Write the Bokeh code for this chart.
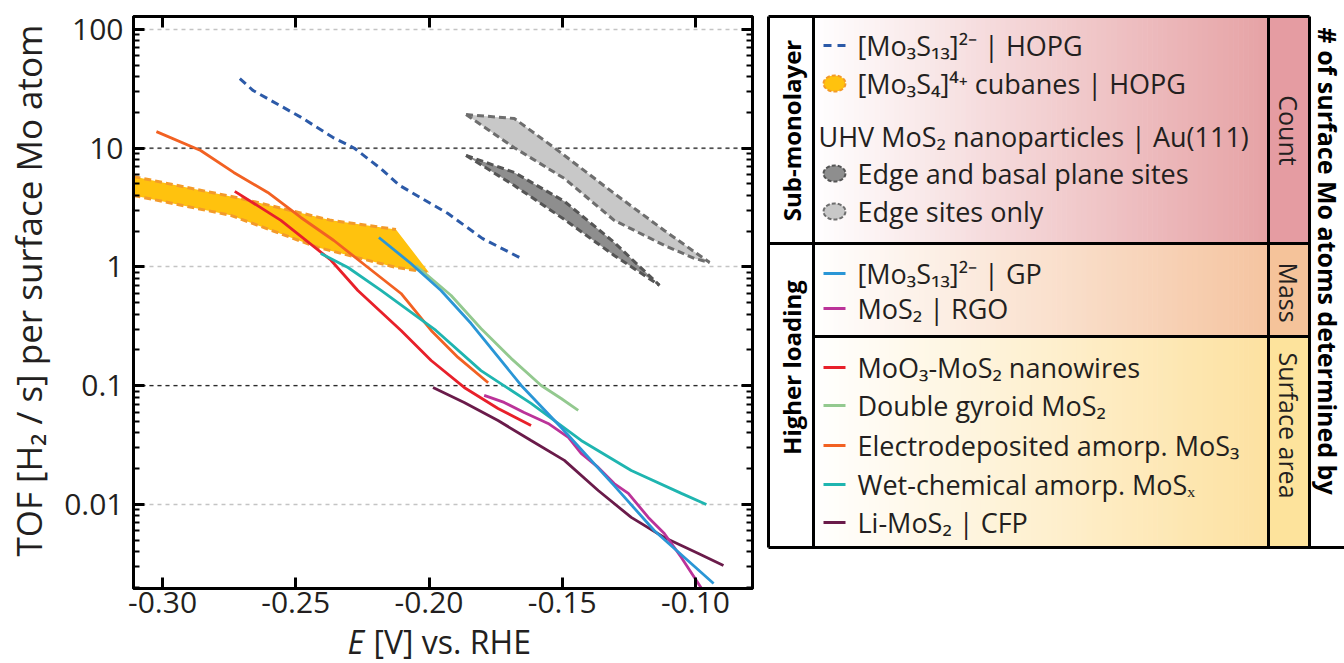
import math
from bokeh.plotting import figure
from bokeh.models import (Range1d, LinearAxis, LogAxis, FixedTicker,
                          CustomJSTickFormatter, Span)
from bokeh.layouts import row, column
from bokeh.embed import file_html
from bokeh.resources import INLINE
from bokeh.core.properties import value

# ---------------- data ----------------
x_ticks = [-0.30, -0.25, -0.20, -0.15, -0.10]
x_tick_labels = ["-0.30", "-0.25", "-0.20", "-0.15", "-0.10"]
y_ticks = [0.01, 0.1, 1, 10, 100]
y_tick_labels = ["0.01", "0.1", "1", "10", "100"]

# [Mo3S13]2- | HOPG (dashed)
hopg_E = [-0.271, -0.266, -0.248, -0.236, -0.228, -0.218, -0.211, -0.193, -0.180, -0.166]
hopg_tof = [38.6, 30.6, 18.2, 12.3, 10.0, 6.7, 4.85, 2.83, 1.74, 1.20]

# [Mo3S4]4+ cubanes | HOPG (band)
cubane_upper_E = [-0.3109, -0.2707, -0.2519, -0.2368, -0.2124]
cubane_upper_tof = [5.78, 3.78, 2.99, 2.47, 2.07]
cubane_lower_E = [-0.3109, -0.2744, -0.2417, -0.2124, -0.2000]
cubane_lower_tof = [4.00, 2.72, 1.46, 0.99, 0.90]

# UHV MoS2 nanoparticles: edge and basal plane sites (dark band)
basal_upper_E = [-0.1861, -0.1680, -0.1492, -0.1305, -0.1135]
basal_upper_tof = [8.69, 6.25, 3.57, 1.61, 0.70]
basal_lower_E = [-0.1861, -0.1680, -0.1492, -0.1305, -0.1135]
basal_lower_tof = [8.69, 4.85, 2.51, 1.25, 0.70]

# UHV MoS2 nanoparticles: edge sites only (light band)
edge_upper_E = [-0.1861, -0.1680, -0.1530, -0.1305, -0.1117, -0.0947]
edge_upper_tof = [19.2, 17.8, 10.1, 4.16, 2.03, 1.09]
edge_lower_E = [-0.1861, -0.1680, -0.1492, -0.1305, -0.1117, -0.1004, -0.0947]
edge_lower_tof = [19.2, 10.1, 5.56, 2.47, 1.52, 1.18, 1.09]

# [Mo3S13]2- | GP
gp_E = [-0.2188, -0.2068, -0.1955, -0.1842, -0.1654, -0.1504, -0.1305, -0.1154, -0.0932]
gp_tof = [1.77, 1.07, 0.634, 0.334, 0.1005, 0.0445, 0.0144, 0.0060, 0.00216]

# MoS2 | RGO
rgo_E = [-0.1793, -0.1718, -0.1643, -0.1553, -0.1477, -0.1429, -0.1365, -0.1305,
         -0.1252, -0.1177, -0.1117, -0.1053, -0.0977, -0.0960]
rgo_tof = [0.0828, 0.0723, 0.0595, 0.0481, 0.0367, 0.0269, 0.0205, 0.0150,
           0.0124, 0.00778, 0.00570, 0.00358, 0.00196, 0.0017]

# MoO3-MoS2 nanowires
nw_E = [-0.2729, -0.2556, -0.2368, -0.2267, -0.2105, -0.1992, -0.1868, -0.1741, -0.1617]
nw_tof = [4.33, 2.47, 1.14, 0.634, 0.292, 0.163, 0.0967, 0.0643, 0.0462]

# Double gyroid MoS2
gyroid_E = [-0.2049, -0.1917, -0.1805, -0.1692, -0.1579, -0.1504, -0.1440]
gyroid_tof = [1.03, 0.575, 0.303, 0.170, 0.1005, 0.078, 0.062]

# Electrodeposited amorp. MoS3
electro_E = [-0.3023, -0.2857, -0.2733, -0.2605, -0.2481, -0.2357, -0.2229,
             -0.2105, -0.1992, -0.1891, -0.1778]
electro_tof = [13.8, 9.57, 6.25, 4.24, 2.61, 1.67, 0.99, 0.598, 0.292, 0.173, 0.106]

# Wet-chemical amorp. MoSx
wet_E = [-0.2406, -0.2304, -0.2180, -0.1974, -0.1805, -0.1617, -0.1429, -0.1241, -0.1053, -0.0959]
wet_tof = [1.30, 0.99, 0.634, 0.292, 0.134, 0.071, 0.0346, 0.0193, 0.0124, 0.0100]

# Li-MoS2 | CFP
li_E = [-0.1985, -0.1868, -0.1741, -0.1617, -0.1492, -0.1365, -0.1241, -0.1117, -0.0989, -0.0895]
li_tof = [0.0966, 0.0723, 0.0509, 0.0346, 0.0235, 0.0131, 0.00778, 0.00527, 0.00387, 0.00306]

legend_labels = ["[Mo\u2083S\u2081\u2083]\u00b2\u207b | HOPG",
                 "[Mo\u2083S\u2084]\u2074\u207a cubanes | HOPG",
                 "UHV MoS\u2082 nanoparticles | Au(111)",
                 "Edge and basal plane sites",
                 "Edge sites only",
                 "[Mo\u2083S\u2081\u2083]\u00b2\u207b | GP",
                 "MoS\u2082 | RGO",
                 "MoO\u2083-MoS\u2082 nanowires",
                 "Double gyroid MoS\u2082",
                 "Electrodeposited amorp. MoS\u2083",
                 "Wet-chemical amorp. MoS\u2093",
                 "Li-MoS\u2082 | CFP"]
group_labels = ["Sub-monolayer", "Higher loading"]
method_labels = ["Count", "Mass", "Surface area"]
side_title = "# of surface Mo atoms determined by"
x_label_italic = "E"
x_label_rest = "[V] vs. RHE"
y_label = "TOF [H\u2082 / s] per surface Mo atom"

# ---------------- styles ----------------
FONT = "Open Sans"
TXT = "#231f20"
C_HOPG = "#2c5aa8"
C_CUB_FILL, C_CUB_LINE = "#ffc20e", "#f39a2a"
C_BASAL_FILL, C_BASAL_LINE = "#8e8e8e", "#555555"
C_EDGE_FILL, C_EDGE_LINE = "#c8c8c8", "#6e6e6e"
C_GP = "#2a96d6"
C_RGO = "#bb3399"
C_NW = "#e8202a"
C_GYR = "#93c98f"
C_ELEC = "#f26122"
C_WET = "#1fb5b0"
C_LI = "#6a1b4a"
LW = 2.8

W_YL, W1, W2, H = 56, 766, 578, 663
H_CH = 627            # chart height
H_XL = 50             # x-title strip height (overlaps chart bottom, transparent)
XL_OVERLAP = H_CH + H_XL - H


def base_fig(w, h, xr, yr):
    f = figure(width=w, height=h, x_range=xr, y_range=yr, output_backend="svg",
               toolbar_location=None, min_border=0, x_axis_location=None,
               y_axis_location=None)
    f.outline_line_color = None
    f.grid.visible = False
    return f


# ---------------- chart ----------------
p = figure(width=W1 - W_YL, height=H_CH, x_range=Range1d(-0.3109, -0.0786),
           y_range=Range1d(0.00196, 128.6), y_axis_type="log",
           output_backend="svg", toolbar_location=None,
           min_border_left=133 - W_YL, min_border_right=14, min_border_top=16,
           min_border_bottom=H_CH - 588)
p.outline_line_color = "black"
p.outline_line_width = 3

y_minor = [m * 10.0 ** e for e in range(-3, 3) for m in range(2, 10)]
yt = FixedTicker(ticks=y_ticks, minor_ticks=y_minor)
xt = FixedTicker(ticks=x_ticks, minor_ticks=[])

p.xgrid.grid_line_color = None
p.ygrid.ticker = yt
p.ygrid.grid_line_color = "#c4c4c4"
p.ygrid.grid_line_dash = "4 4"
p.ygrid.grid_line_width = 1.3
for v in (10, 0.1):
    p.add_layout(Span(location=v, dimension="width", line_color="#2a2a2a",
                      line_dash="4 4", line_width=1.3, level="underlay"))

xfmt = CustomJSTickFormatter(code="return tick.toFixed(2);")
yfmt = CustomJSTickFormatter(code="return Number(tick.toPrecision(6)).toString();")


def style_axis(ax, show):
    ax.axis_line_width = 3
    ax.axis_line_color = "black"
    ax.major_tick_in = 11
    ax.major_tick_out = 0
    ax.major_tick_line_width = 3
    ax.minor_tick_in = 6
    ax.minor_tick_out = 0
    ax.minor_tick_line_width = 2
    ax.major_label_text_font = FONT
    ax.major_label_text_color = TXT
    if show:
        ax.major_label_text_font_size = "30px"
    else:
        ax.major_label_text_font_size = "0px"
        ax.major_label_text_color = None
        ax.major_label_standoff = 0


xa = p.xaxis[0]
xa.ticker = xt
xa.formatter = xfmt
xa.major_label_overrides = dict(zip(x_ticks, x_tick_labels))
style_axis(xa, True)
xa.major_label_standoff = 3

ya = p.yaxis[0]
ya.ticker = yt
ya.formatter = yfmt
ya.major_label_overrides = dict(zip(y_ticks, y_tick_labels))
style_axis(ya, True)
ya.major_label_standoff = 10

top_ax = LinearAxis(ticker=xt, formatter=xfmt)
style_axis(top_ax, False)
p.add_layout(top_ax, "above")
right_ax = LogAxis(ticker=yt, formatter=yfmt)
style_axis(right_ax, False)
p.add_layout(right_ax, "right")


def band(up_x, up_y, lo_x, lo_y, fill, line):
    p.patch(list(up_x) + list(reversed(lo_x)), list(up_y) + list(reversed(lo_y)),
            fill_color=fill, line_color=None)
    p.line(up_x, up_y, line_color=line, line_width=3, line_dash="7 4")
    p.line(lo_x, lo_y, line_color=line, line_width=3, line_dash="7 4")


band(cubane_upper_E, cubane_upper_tof, cubane_lower_E, cubane_lower_tof, C_CUB_FILL, C_CUB_LINE)
band(edge_upper_E, edge_upper_tof, edge_lower_E, edge_lower_tof, C_EDGE_FILL, C_EDGE_LINE)
band(basal_upper_E, basal_upper_tof, basal_lower_E, basal_lower_tof, C_BASAL_FILL, C_BASAL_LINE)

p.line(hopg_E, hopg_tof, line_color=C_HOPG, line_width=3, line_dash="8 5")
p.line(gyroid_E, gyroid_tof, line_color=C_GYR, line_width=LW)
p.line(electro_E, electro_tof, line_color=C_ELEC, line_width=LW)
p.line(nw_E, nw_tof, line_color=C_NW, line_width=LW)
p.line(wet_E, wet_tof, line_color=C_WET, line_width=LW)
p.line(li_E, li_tof, line_color=C_LI, line_width=LW)
p.line(rgo_E, rgo_tof, line_color=C_RGO, line_width=LW)
p.line(gp_E, gp_tof, line_color=C_GP, line_width=LW)

# ---------------- axis titles (strips) ----------------
yl = base_fig(W_YL, H_CH, Range1d(0, W_YL), Range1d(0, H_CH))
yl.text(x=[28], y=[H_CH - 592], text=[y_label], angle=math.pi / 2,
        text_font=value(FONT), text_font_size="35px", text_color=TXT,
        text_align="left", text_baseline="middle")

xl = base_fig(W1, H_XL, Range1d(0, W1), Range1d(H, H - H_XL))
xl.background_fill_color = None
xl.border_fill_color = None
xl.margin = (-XL_OVERLAP, 0, 0, 0)
xl.text(x=[347], y=[641], text=[x_label_italic], text_font=value(FONT),
        text_font_size="32px", text_font_style="italic", text_color=TXT,
        text_align="left", text_baseline="middle")
xl.text(x=[373], y=[641], text=[x_label_rest], text_font=value(FONT),
        text_font_size="32px", text_color=TXT, text_align="left",
        text_baseline="middle")

# ---------------- legend panel ----------------
q = base_fig(W2, H, Range1d(W1, W1 + W2), Range1d(0, H))


def Y(v):
    return H - v


LX0, LX1, LX2, LX3, LXR = 768, 813, 1268, 1309, 1344
LY0, LY1, LY2, LY3 = 16, 243, 336, 547


def hexrgb(h):
    return tuple(int(h[i:i + 2], 16) for i in (1, 3, 5))


def gradient(x0, x1, y0, y1, c_end, n=90):
    r1, g1, b1 = hexrgb(c_end)
    lefts, rights, cols = [], [], []
    dw = (x1 - x0) / n
    for i in range(n):
        t = (i + 0.5) / n
        r = round(255 + (r1 - 255) * t)
        g = round(255 + (g1 - 255) * t)
        b = round(255 + (b1 - 255) * t)
        lefts.append(x0 + i * dw)
        rights.append(x0 + (i + 1) * dw + 0.6)
        cols.append("#%02x%02x%02x" % (r, g, b))
    q.quad(left=lefts, right=rights, top=Y(y0), bottom=Y(y1), fill_color=cols, line_color=None)


gradient(LX1, LX2, LY0, LY1, "#e6a2a5")
gradient(LX1, LX2, LY1, LY2, "#f5c4a0")
gradient(LX1, LX2, LY2, LY3, "#fde1a0")
q.quad(left=[LX2, LX2, LX2], right=[LX3, LX3, LX3], top=[Y(LY0), Y(LY1), Y(LY2)],
       bottom=[Y(LY1), Y(LY2), Y(LY3)], fill_color=["#e59ca2", "#f5c39a", "#fde39c"],
       line_color=None)

border_x = [[LX0, LX3], [LX0, LXR], [LX0, LX0], [LX1, LX1], [LX2, LX2], [LX3, LX3],
            [LX0, LX3], [LX1, LX3]]
border_y = [[LY0, LY0], [LY3, LY3], [LY0, LY3], [LY0, LY3], [LY0, LY3], [LY0, LY3],
            [LY1, LY1], [LY2, LY2]]
q.multi_line(border_x, [[Y(a), Y(b)] for a, b in border_y], line_color="black",
             line_width=3)

row_y = [45, 83, 136, 173, 211, 273, 308, 367, 405, 445, 484, 522]
text_x = [857, 857, 818, 857, 857, 857, 857, 857, 857, 857, 857, 857]
q.text(x=text_x, y=[Y(v) for v in row_y], text=legend_labels, text_font=value(FONT),
       text_font_size="27px", text_color=TXT, text_baseline="middle", text_align="left")

IX0, IX1, IXC = 823, 845, 834
q.segment(x0=IX0, y0=Y(45), x1=IX1, y1=Y(45), line_color=C_HOPG, line_width=3, line_dash="8 6")
q.ellipse(x=[IXC], y=[Y(83)], width=22, height=16, fill_color=C_CUB_FILL,
          line_color=C_CUB_LINE, line_width=2, line_dash="4 2")
q.ellipse(x=[IXC], y=[Y(173)], width=22, height=16, fill_color=C_BASAL_FILL,
          line_color=C_BASAL_LINE, line_width=2, line_dash="4 2")
q.ellipse(x=[IXC], y=[Y(211)], width=22, height=16, fill_color=C_EDGE_FILL,
          line_color=C_EDGE_LINE, line_width=2, line_dash="4 2")
solid_rows = [273, 308, 367, 405, 445, 484, 522]
solid_cols = [C_GP, C_RGO, C_NW, C_GYR, C_ELEC, C_WET, C_LI]
q.segment(x0=[IX0] * 7, y0=[Y(v) for v in solid_rows], x1=[IX1] * 7,
          y1=[Y(v) for v in solid_rows], line_color=solid_cols, line_width=3)

q.text(x=[791, 791], y=[Y(130), Y(367)], text=group_labels, angle=math.pi / 2,
       text_font=value(FONT), text_font_size="24px", text_font_style="bold",
       text_color="black", text_align="center", text_baseline="middle")
q.text(x=[1288, 1288, 1288], y=[Y(130), Y(292), Y(425)], text=method_labels,
       angle=-math.pi / 2, text_font=value(FONT), text_font_size="25px",
       text_color=TXT, text_align="center", text_baseline="middle")
q.text(x=[1327], y=[Y(27)], text=[side_title], angle=-math.pi / 2,
       text_font=value(FONT), text_font_size="25px", text_font_style="bold",
       text_color="black", text_align="left", text_baseline="middle")

layout = row(column(row(yl, p), xl), q)
open("out.html", "w").write(file_html(layout, INLINE))
